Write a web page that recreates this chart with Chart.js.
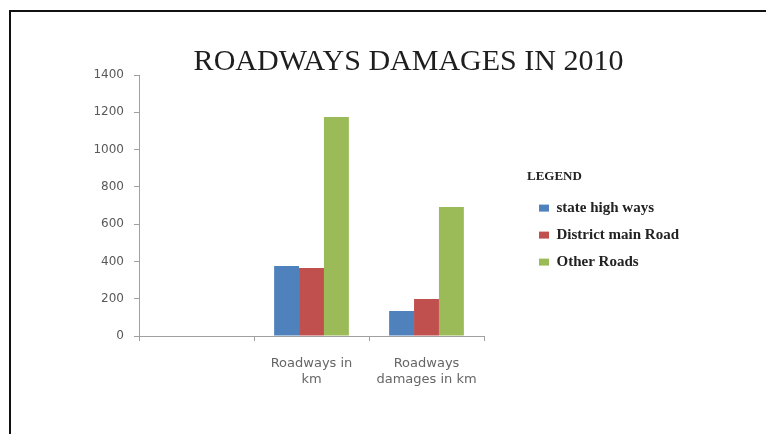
<!DOCTYPE html>
<html><head><meta charset="utf-8">
<script src="https://cdn.jsdelivr.net/npm/chart.js@4.4.1/dist/chart.umd.min.js"></script>
<style>
html,body{margin:0;padding:0;background:#fff;}
body{width:766px;height:434px;overflow:hidden;position:relative;}
#frame{position:absolute;left:9px;top:10px;width:820px;height:500px;border-left:2px solid #111;border-top:2px solid #111;}
#wrap{position:absolute;left:0;top:0;width:766px;height:434px;}
</style></head><body>
<div id="frame"></div>
<div id="wrap"><canvas id="c" width="766" height="434"></canvas></div>
<script>
const chartTitle = "ROADWAYS DAMAGES IN 2010";
const legendTitle = "LEGEND";
const categories = ["", ["Roadways in", "km"], ["Roadways", "damages in km"]];
const seriesNames = ["state high ways", "District main Road", "Other Roads"];
const stateHighWays = [null, 375, 134];
const districtMainRoad = [null, 365, 198];
const otherRoads = [null, 1175, 692];
const yTicks = [0, 200, 400, 600, 800, 1000, 1200, 1400];
const seriesColors = ["#4F81BD", "#C0504D", "#9BBB59"];

const placeBoxes = {
  id: 'placeBoxes',
  afterLayout(chart) {
    const t = chart.titleBlock;
    if (t) {
      const w = t.right - t.left;
      t.left = 408.5 - w / 2; t.right = 408.5 + w / 2;
      t.top += 3; t.bottom += 3;
    }
    const lg = chart.legend;
    if (lg) {
      const w = 210, h = lg.height;
      lg.width = w;
      lg.left = 527; lg.right = 527 + w; lg.top = 170; lg.bottom = 170 + h;
    }
  }
};

const seriesData = [stateHighWays, districtMainRoad, otherRoads];
new Chart(document.getElementById('c'), {
  type: 'bar',
  data: {
    labels: categories,
    datasets: seriesNames.map((n, i) => ({
      label: n,
      data: seriesData[i],
      backgroundColor: seriesColors[i],
      borderWidth: 0,
      categoryPercentage: 0.65,
      barPercentage: 1.0
    }))
  },
  options: {
    responsive: false,
    animation: false,
    events: [],
    layout: { padding: { left: 50, right: 182, top: 0, bottom: 48 } },
    plugins: {
      tooltip: { enabled: false },
      title: {
        display: true, text: chartTitle, color: '#1e1e1e',
        font: { family: 'Liberation Serif', size: 30, weight: 'normal', lineHeight: 1.0 },
        padding: { top: 44, bottom: 1 }
      },
      legend: {
        position: 'right', align: 'start', maxWidth: 100,
        title: {
          display: true, text: legendTitle, position: 'start', color: '#222',
          font: { family: 'Liberation Serif', size: 13, weight: 'bold', lineHeight: 1.2 },
          padding: { top: 0, bottom: 3 }
        },
        labels: {
          boxWidth: 10, boxHeight: 7, padding: 12, color: '#222',
          font: { family: 'Liberation Serif', size: 15, weight: 'bold' }
        }
      }
    },
    scales: {
      x: {
        offset: true,
        grid: { offset: true, display: true, drawOnChartArea: false, tickLength: 5, color: '#a0a0a0' },
        border: { display: true, color: '#a0a0a0' },
        ticks: { color: '#666', font: { family: 'DejaVu Sans', size: 13, lineHeight: 1.25 }, padding: 14, maxRotation: 0, autoSkip: false },
        afterFit(s) { s.height = 50; }
      },
      y: {
        min: yTicks[0], max: yTicks[yTicks.length - 1],
        ticks: {
          stepSize: yTicks[1] - yTicks[0], color: '#595959',
          font: { family: 'DejaVu Sans', size: 12 }, padding: 10,
          callback: (v) => String(v)
        },
        grid: { display: true, drawOnChartArea: false, tickLength: 5, color: '#a0a0a0' },
        border: { display: true, color: '#a0a0a0' },
        afterFit(s) { s.width = 89; }
      }
    }
  },
  plugins: [placeBoxes]
});
</script>
</body></html>
